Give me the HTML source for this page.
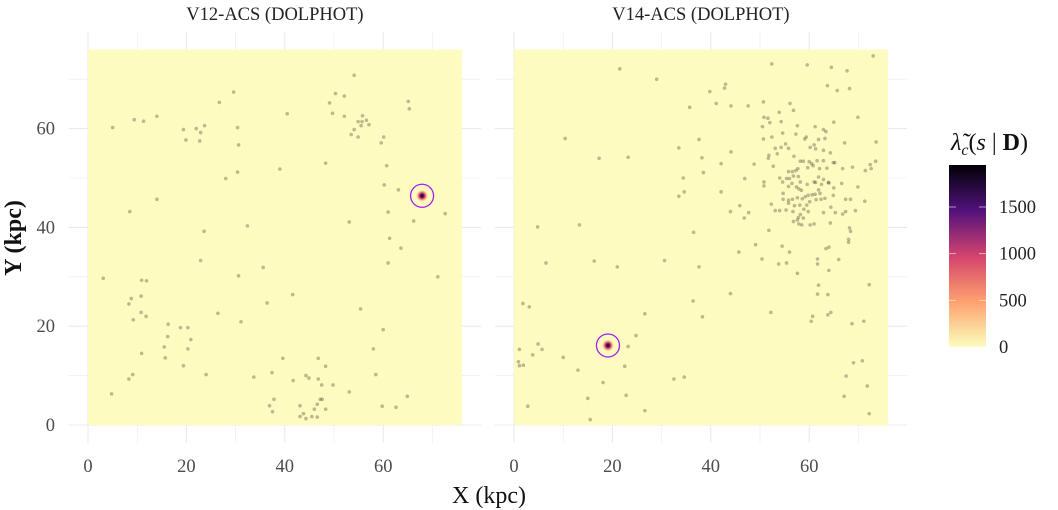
<!DOCTYPE html>
<html><head><meta charset="utf-8"><style>
html,body{margin:0;padding:0;background:#fff;}
svg{display:block;font-family:"Liberation Serif",serif;}
</style></head><body>
<svg id="chart" width="1058" height="510" viewBox="0 0 1058 510" xmlns="http://www.w3.org/2000/svg">
<defs>
<radialGradient id="hot"><stop offset="0" stop-color="#000004"/><stop offset="0.25" stop-color="#51127c"/><stop offset="0.45" stop-color="#d3436e"/><stop offset="0.7" stop-color="#fea16e" stop-opacity="0.7"/><stop offset="1" stop-color="#fcfdbf" stop-opacity="0"/></radialGradient>
<linearGradient id="cbar" x1="0" y1="1" x2="0" y2="0"><stop offset="0" stop-color="#fcfdbf"/><stop offset="0.25" stop-color="#fea16e"/><stop offset="0.5" stop-color="#d3436e"/><stop offset="0.75" stop-color="#51127c"/><stop offset="1" stop-color="#000004"/></linearGradient>
</defs>
</svg>
<script>
const xTicks=[0,20,40,60];
const yTicks=[0,20,40,60];
const cbTicks=[0,500,1000,1500];
const cbMax=1950;
const panelTitles=["V12-ACS (DOLPHOT)","V14-ACS (DOLPHOT)"];
const hotspotX=[67.9,19.1];
const hotspotY=[46.4,16.1];
const pts1X=[54.1,29.6,26.7,50.3,52.1,49.1,49.7,52.1,40.5,65.1,65.3,9.4,11.3,14.0,5.0,19.4,22.0,23.7,22.9,19.9,22.7,30.4,30.6,55.8,54.9,55.7,56.6,57.1,55.5,54.1,53.5,54.9,60.1,59.6,48.3,39.0,60.7,30.4,28.0,60.2,63.1,14.0,8.5,61.0,72.6,66.2,53.1,23.6,32.4,61.3,63.6,61.0,22.9,35.6,3.1,10.9,11.9,30.6,71.1,10.8,8.8,8.3,41.6,36.4,10.8,11.8,9.2,26.4,31.1,55.4,16.3,18.8,20.3,16.2,20.9,15.5,20.3,15.7,10.9,60.0,58.0,19.4,24.0,9.1,8.3,4.8,39.6,46.8,48.3,37.4,33.7,44.3,44.9,41.7,46.8,47.5,49.8,58.5,53.1,64.9,37.8,47.2,47.6,36.9,43.1,46.6,37.5,46.0,48.3,59.8,62.6,43.1,43.8,44.3,45.5,46.6];
const pts1Y=[70.8,67.4,65.3,67.1,66.6,65.2,63.1,62.5,63.0,65.5,64.0,61.8,61.5,62.5,60.2,59.8,60.0,60.6,59.2,57.7,57.5,60.2,56.7,62.6,61.4,61.4,61.7,60.8,60.6,59.8,58.8,58.3,58.3,57.1,53.0,51.8,52.5,51.2,49.9,48.6,47.6,45.7,43.2,43.1,42.8,41.3,41.1,39.2,40.3,37.8,35.8,32.8,33.3,31.9,29.7,29.3,29.2,30.2,30.0,26.1,25.6,24.5,26.4,24.7,22.8,22.0,21.3,22.6,20.9,23.5,20.4,19.7,19.7,17.9,17.3,15.8,15.4,13.6,14.5,19.3,15.4,12.0,10.2,10.2,9.3,6.3,13.5,13.5,11.9,10.6,9.7,10.0,9.5,9.0,9.3,8.1,8.1,10.2,6.7,5.8,5.2,5.2,5.2,3.9,3.9,4.2,2.7,3.2,3.2,3.8,3.6,1.7,2.3,1.3,1.7,1.6];
const pts2X=[73.0,52.4,59.6,64.5,67.7,21.5,29.0,43.0,42.8,39.8,63.7,68.2,65.7,41.1,44.1,47.6,50.7,56.1,56.8,53.9,35.7,50.8,51.6,50.5,52.0,54.3,57.6,61.2,62.9,63.4,65.0,69.9,54.6,57.3,59.4,59.1,50.7,52.4,61.0,61.9,63.2,67.2,73.6,55.2,55.8,54.3,53.1,60.2,61.3,62.9,64.3,51.8,51.7,53.5,56.9,58.2,58.8,60.0,60.5,61.6,62.9,64.9,65.2,73.5,72.4,71.4,72.6,68.8,66.8,63.6,62.1,60.8,59.7,57.7,55.8,56.6,57.3,52.7,48.8,44.1,38.2,37.6,33.5,38.5,42.1,34.4,34.6,33.5,42.1,46.9,50.8,50.8,54.0,54.6,55.4,56.0,56.8,57.8,58.2,56.5,55.8,57.4,57.9,58.4,59.6,61.0,61.3,61.9,62.5,62.9,63.9,64.0,65.0,66.6,69.9,61.9,62.2,61.2,60.6,59.8,59.2,58.6,57.6,56.6,55.8,54.7,54.7,55.8,52.3,57.0,58.1,59.5,60.1,61.4,62.4,63.2,64.9,67.4,68.4,71.3,64.4,62.9,65.3,66.8,67.4,69.4,59.8,58.9,58.2,58.8,57.8,56.7,55.3,54.0,53.1,56.8,57.6,57.9,58.5,60.2,61.0,64.3,68.2,68.4,68.0,68.0,51.8,45.9,47.7,46.8,44.0,36.5,49.1,45.7,54.5,56.0,63.4,64.0,66.0,61.7,61.7,64.0,57.6,55.4,53.8,50.4,72.2,61.9,61.7,63.8,64.4,63.8,60.7,60.4,68.7,71.1,52.2,44.0,36.4,38.3,37.6,30.6,10.4,17.3,23.2,4.8,13.3,6.5,16.3,21.0,1.8,3.1,26.6,24.8,23.2,4.9,5.7,3.8,1.1,0.9,1.1,1.9,10.0,13.0,22.5,18.1,32.5,34.6,22.8,15.0,2.8,26.6,15.5,69.0,70.8,67.5,71.8,67.1,72.2];
const pts2Y=[74.7,73.1,72.9,72.4,71.7,72.1,70.0,69.0,68.2,67.5,68.7,68.1,67.7,65.1,64.6,64.6,65.4,65.1,63.7,63.3,64.3,62.3,62.1,60.4,61.2,61.4,60.6,60.4,59.8,59.4,61.3,62.3,59.1,58.9,58.3,57.9,57.9,58.3,56.7,57.8,58.0,57.1,57.3,56.9,56.0,56.2,56.0,56.2,55.9,55.6,55.1,54.6,54.0,54.9,54.4,53.4,53.4,53.3,52.9,53.5,53.5,53.1,53.1,53.4,52.7,51.5,51.9,52.2,51.9,52.0,51.9,52.5,52.1,51.9,51.3,51.3,51.5,52.4,52.8,55.3,54.1,57.8,56.1,51.1,52.9,50.0,47.2,46.3,47.2,49.9,49.2,48.4,50.0,49.2,49.9,49.9,50.4,50.3,49.2,48.9,48.3,48.2,47.8,47.5,48.7,49.2,49.1,50.2,48.7,49.7,49.1,49.0,48.0,48.9,48.2,47.6,46.9,46.7,46.6,46.5,46.2,45.8,46.0,45.7,45.5,46.9,45.7,44.9,44.7,44.4,44.5,44.5,45.2,45.6,45.7,45.9,46.5,45.7,45.7,45.3,44.1,43.0,43.0,42.7,43.2,43.4,43.2,43.7,42.6,41.9,42.0,43.2,43.5,43.4,43.4,41.2,41.5,40.7,40.5,40.5,40.7,40.9,39.9,39.2,37.6,37.0,39.4,44.4,43.0,41.9,43.2,39.0,36.5,35.0,36.2,35.0,35.7,36.0,33.5,33.6,32.6,31.3,30.7,32.8,32.6,33.6,28.4,28.3,26.5,26.4,22.8,22.3,22.0,21.0,20.5,21.0,22.8,26.6,25.1,21.9,32.0,33.3,58.0,54.0,54.2,40.1,40.5,32.8,33.2,32.0,24.6,23.9,22.5,18.1,15.9,16.4,15.3,14.2,15.3,12.8,12.0,12.1,13.7,11.1,11.9,8.6,9.3,9.7,6.0,5.4,3.8,2.9,1.1,12.6,13.0,9.9,7.9,5.8,2.3];

const NS="http://www.w3.org/2000/svg";
const svg=document.getElementById('chart');
function mk(tag,attrs,parent){const e=document.createElementNS(NS,tag);for(const k in attrs)e.setAttribute(k,attrs[k]);(parent||svg).appendChild(e);return e;}
const x0s=[88,514], y0=425, sx=4.92, sy=4.94;
const xs=(p,v)=>x0s[p]+v*sx, ys=v=>y0-v*sy;
const allX=[pts1X,pts2X], allY=[pts1Y,pts2Y];
for(let p=0;p<2;p++){
  const g=mk('g',{});
  
  
  for(let v=0;v<=70;v+=10){
    const gl=mk('line',{x1:xs(p,v),x2:xs(p,v),y1:ys(79.6),y2:ys(-3.6),stroke:'#ebebeb','stroke-width':v%20==0?1.1:0.6},g);
    
    const hl=mk('line',{x1:xs(p,-3.9),x2:xs(p,79.9),y1:ys(v),y2:ys(v),stroke:'#ebebeb','stroke-width':v%20==0?1.1:0.6},g);
    
  }
  const bg=mk('rect',{x:xs(p,0),y:ys(76),width:76*sx,height:76*sy,fill:'#fdfbbf'},g);
  
  const hs=mk('circle',{cx:xs(p,hotspotX[p]),cy:ys(hotspotY[p]),r:6.5,fill:'url(#hot)'},g);
  
  for(let i=0;i<allX[p].length;i++){
    const c=mk('circle',{cx:xs(p,allX[p][i]),cy:ys(allY[p][i]),r:1.8,fill:'#000','fill-opacity':0.26},g);
    
  }
  const ring=mk('circle',{cx:xs(p,hotspotX[p]),cy:ys(hotspotY[p]),r:11.5,fill:'none',stroke:'#a020f0','stroke-width':1.3},g);
  
  const t=mk('text',{x:xs(p,38),y:20,'text-anchor':'middle','font-size':18.5,fill:'#222'},g);
  t.textContent=panelTitles[p];
  xTicks.forEach(v=>{const tt=mk('text',{x:xs(p,v),y:472,'text-anchor':'middle','font-size':18.5,fill:'#4d4d4d'},g);tt.textContent=v;});
}
yTicks.forEach(v=>{const tt=mk('text',{x:55,y:ys(v)+6,'text-anchor':'end','font-size':18.5,fill:'#4d4d4d'});tt.textContent=v;});
const xt=mk('text',{x:489,y:503,'text-anchor':'middle','font-size':24,fill:'#111'});xt.textContent='X (kpc)';

const yt=mk('text',{x:21,y:238,'text-anchor':'middle','font-size':24,'font-weight':'bold',fill:'#111',transform:'rotate(-90 21 238)'});yt.textContent='Y (kpc)';

const cbTop=165, cbBot=347, cbX=949, cbW=37;
const cb=mk('rect',{x:cbX,y:cbTop,width:cbW,height:cbBot-cbTop,fill:'url(#cbar)'});

const cy=v=>cbBot-v/cbMax*(cbBot-cbTop);
cbTicks.forEach(v=>{
  mk('line',{x1:cbX,x2:cbX+7,y1:cy(v),y2:cy(v),stroke:'#fff','stroke-width':0.8,'stroke-opacity':0.7});
  mk('line',{x1:cbX+cbW-7,x2:cbX+cbW,y1:cy(v),y2:cy(v),stroke:'#fff','stroke-width':0.8,'stroke-opacity':0.7});
  const tt=mk('text',{x:999,y:cy(v)+6,'font-size':18.5,fill:'#222'});tt.textContent=v;
  
});
const lt=mk('text',{x:951,y:150,'font-size':24,fill:'#111'});
lt.innerHTML='<tspan font-style="italic">λ̃</tspan><tspan font-style="italic" font-size="16" dy="5">c</tspan><tspan dy="-5">(</tspan><tspan font-style="italic">s</tspan> | <tspan font-weight="bold">D</tspan>)';

</script>
</body></html>
